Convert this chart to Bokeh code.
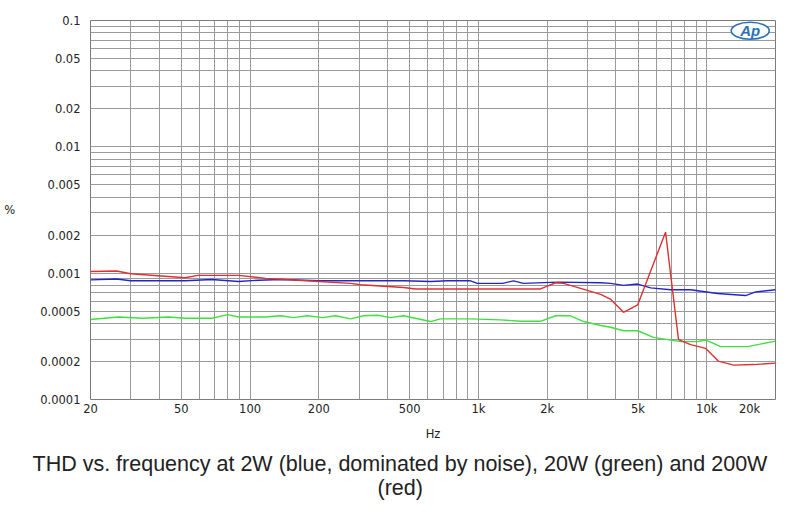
from bokeh.plotting import figure
from bokeh.models import FixedTicker, Label, Range1d, Title
from bokeh.embed import file_html
from bokeh.resources import INLINE

# ---- data ----
freq_2w = [20, 26, 30, 52, 68, 89, 109, 136, 200, 305, 470, 620, 733, 923, 990, 1276,
           1425, 1576, 2220, 3430, 3790, 4320, 4980, 5680, 6940, 8490, 11140, 14790, 16370, 20000]
thd_2w = [0.000885, 0.0009, 0.00087, 0.00087, 0.00089, 0.00086, 0.00088, 0.00089, 0.00087,
          0.00087, 0.00087, 0.00086, 0.00087, 0.00087, 0.00083, 0.00083, 0.00087, 0.00083,
          0.00085, 0.00084, 0.00083, 0.0008, 0.00082, 0.000765, 0.00074, 0.00074, 0.00069,
          0.000665, 0.00071, 0.00074]

freq_20w = [20, 26.5, 34, 44, 52, 68, 80, 89, 117, 136, 155, 178, 208, 237, 275, 314, 361,
            412, 470, 617, 682, 923, 1250, 1530, 1870, 2176, 2530, 2890, 3430, 3790, 4320,
            4980, 5850, 7680, 9120, 9880, 11500, 15090, 20000]
thd_20w = [0.00043, 0.00045, 0.00044, 0.00045, 0.00044, 0.00044, 0.00047, 0.00045, 0.00045,
           0.00046, 0.000445, 0.00046, 0.000445, 0.00046, 0.000435, 0.00046, 0.000464,
           0.000445, 0.00046, 0.000414, 0.000435, 0.000435, 0.000427, 0.000416, 0.000416,
           0.00046, 0.00046, 0.000414, 0.000385, 0.000373, 0.00035, 0.00035, 0.00031,
           0.000287, 0.000287, 0.000296, 0.000262, 0.000262, 0.00029]

freq_200w = [20, 26, 30, 52, 59, 89, 117, 200, 275, 305, 470, 530, 1870, 2180, 2360, 3000,
             3430, 3800, 4320, 4980, 6600, 7520, 8490, 9880, 11250, 13100, 16000, 20000]
thd_200w = [0.00103, 0.00104, 0.00099, 0.00092, 0.00096, 0.00096, 0.00091, 0.00086, 0.00083,
            0.00081, 0.00077, 0.00075, 0.00075, 0.00084, 0.00083, 0.00073, 0.00068, 0.00062,
            0.00049, 0.00056, 0.00211, 0.000298, 0.000272, 0.000254, 0.000201, 0.000187,
            0.000189, 0.000194]

x_ticks = [20, 50, 100, 200, 500, 1000, 2000, 5000, 10000, 20000]
x_tick_labels = ["20", "50", "100", "200", "500", "1k", "2k", "5k", "10k", "20k"]
y_ticks = [0.0001, 0.0002, 0.0005, 0.001, 0.002, 0.005, 0.01, 0.02, 0.05, 0.1]
y_tick_labels = ["0.0001", "0.0002", "0.0005", "0.001", "0.002", "0.005", "0.01", "0.02", "0.05", "0.1"]
x_minor = [m * 10 ** e for e in range(1, 5) for m in range(1, 10) if 20 <= m * 10 ** e <= 20000]
y_minor = [round(m * 10.0 ** e, 6) for e in range(-4, -1) for m in range(1, 10)]

caption_lines = ["THD vs. frequency at 2W (blue, dominated by noise), 20W (green) and 200W",
                 "(red)"]

TICK_FONT = "DejaVu Sans"
CAP_FONT = "Liberation Sans"
GRID = "#9a9a9a"
INK = "#222222"

p = figure(width=800, height=505, x_axis_type="log", y_axis_type="log",
           x_range=Range1d(20, 20000), y_range=Range1d(0.0001, 0.1),
           output_backend="svg", toolbar_location=None,
           min_border_left=90, min_border_right=25, min_border_top=20, min_border_bottom=106)
p.background_fill_color = "white"
p.border_fill_color = "white"
p.outline_line_color = "#7a7a7a"

xt = FixedTicker(ticks=x_ticks, minor_ticks=x_minor)
yt = FixedTicker(ticks=y_ticks, minor_ticks=y_minor)
p.xaxis.ticker = xt
p.yaxis.ticker = yt
p.xgrid.ticker = xt
p.ygrid.ticker = yt

overrides_x = {t: l for t, l in zip(x_ticks, x_tick_labels)}
# the last label sits left of its grid line in the reference
overrides_x[x_ticks[-1]] = x_tick_labels[-1] + "\u00a0" * 11
p.xaxis.major_label_overrides = overrides_x
p.yaxis.major_label_overrides = {t: l for t, l in zip(y_ticks, y_tick_labels)}

for ax in (p.xaxis, p.yaxis):
    ax.axis_line_color = None
    ax.major_tick_line_color = None
    ax.minor_tick_line_color = None
    ax.major_tick_out = 0
    ax.major_tick_in = 0
    ax.major_label_text_font = TICK_FONT
    ax.major_label_text_font_size = "11.5px"
    ax.major_label_text_color = INK
    ax.axis_label_text_font = TICK_FONT
    ax.axis_label_text_font_size = "11.5px"
    ax.axis_label_text_font_style = "normal"
    ax.axis_label_text_color = INK

p.xaxis.major_label_standoff = -2
p.yaxis.major_label_standoff = 6
p.xaxis.axis_label = "Hz"
p.xaxis.axis_label_standoff = 8
p.yaxis.axis_label = "%"
p.yaxis.axis_label_orientation = "horizontal"
p.yaxis.axis_label_standoff = 22

for g in (p.xgrid, p.ygrid):
    g.grid_line_color = GRID
    g.minor_grid_line_color = GRID
    g.grid_line_width = 1
    g.minor_grid_line_width = 1

p.line(freq_2w, thd_2w, line_color="#2424c8", line_width=1.4)
p.line(freq_20w, thd_20w, line_color="#3ee03e", line_width=1.4)
p.line(freq_200w, thd_200w, line_color="#e03030", line_width=1.4)

# AP logo
p.ellipse(x=[15500], y=[0.083], width=38, height=17, width_units="screen",
          height_units="screen", fill_color="white", line_color="#2a72b8", line_width=1.6)
p.add_layout(Label(x=15500, y=0.083, text="Ap", text_align="center", text_baseline="middle",
                   text_font="Liberation Sans", text_font_style="bold italic",
                   text_font_size="15px", text_color="#2a72b8"))

# caption below the chart (two lines, centred on the page)
t1 = Title(text=caption_lines[0], align="left", offset=-58, vertical_align="top", standoff=16,
           text_font=CAP_FONT, text_font_size="21.5px", text_font_style="normal",
           text_color=INK)
t2 = Title(text=caption_lines[1], align="left", offset=287, vertical_align="top", standoff=-20,
           text_font=CAP_FONT, text_font_size="21.5px", text_font_style="normal",
           text_color=INK)
p.add_layout(t1, "below")
p.add_layout(t2, "below")

open("out.html", "w").write(file_html(p, INLINE))
